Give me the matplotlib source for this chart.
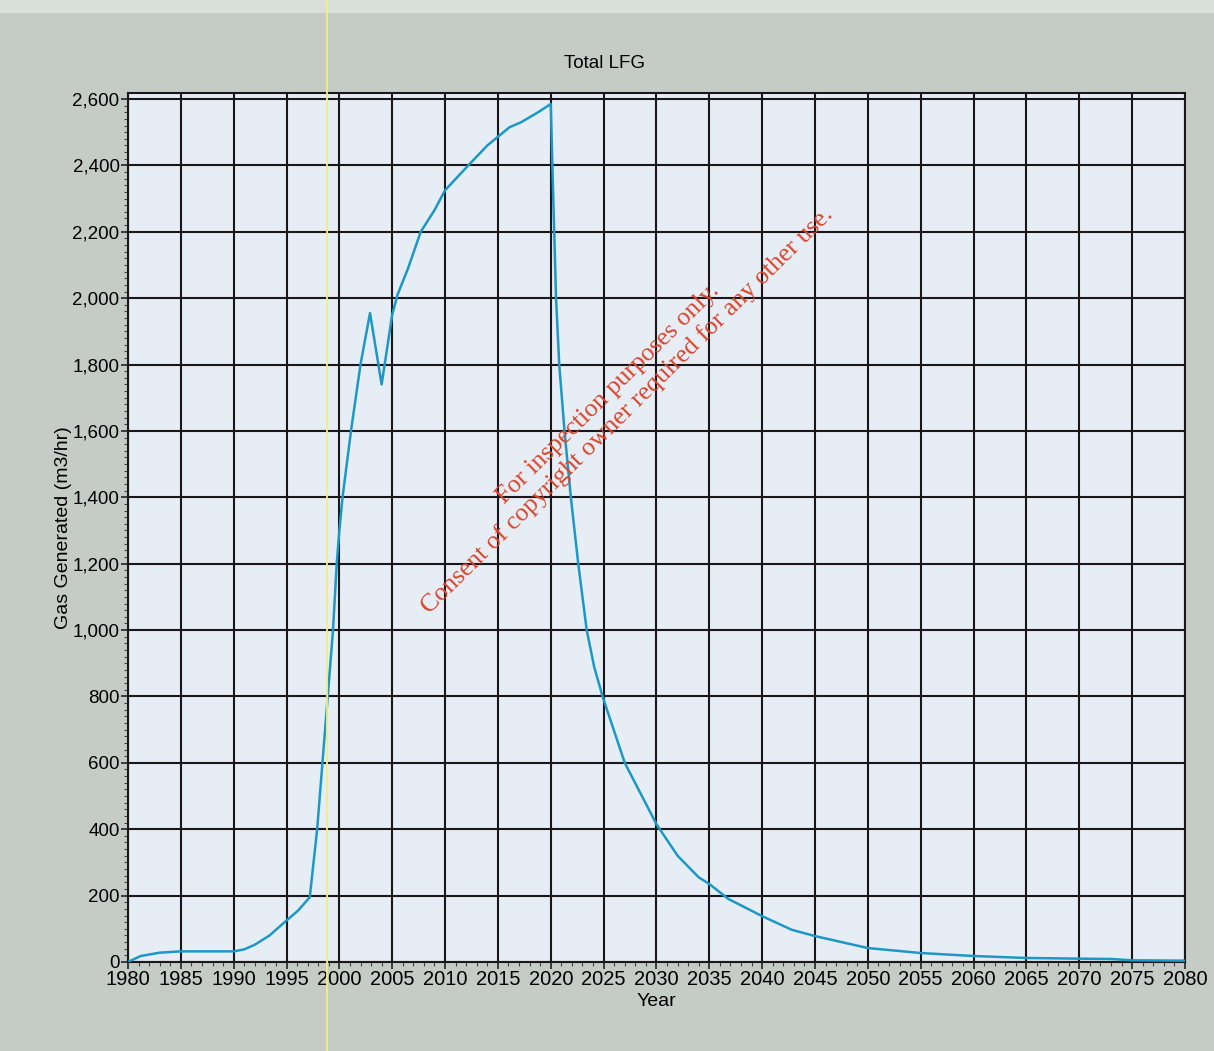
import matplotlib
matplotlib.use("Agg")
import matplotlib.pyplot as plt
from matplotlib.ticker import MultipleLocator, FuncFormatter
from matplotlib.lines import Line2D
from matplotlib.patches import Rectangle

# landfill gas generation curve (m3/hr)
years = [1980, 1981.2, 1983, 1985, 1990, 1991, 1992, 1993.4, 1995, 1996.1,
         1997.2, 1997.9, 1998.4, 1998.9, 1999.4, 1999.75, 2000, 2000.3, 2001.1,
         2002, 2002.9, 2004, 2005, 2005.5, 2006.5, 2007.7, 2009, 2010, 2012.2,
         2014, 2016.1, 2017.2, 2018.8, 2020, 2020.15, 2020.5, 2020.8, 2021.3,
         2021.9, 2022.6, 2023.4, 2024.1, 2024.9, 2027, 2030, 2032, 2034, 2035,
         2036.8, 2040, 2042.8, 2045, 2050, 2055, 2060, 2065, 2070, 2073, 2075,
         2080]
gas = [0, 18, 28, 32, 32, 38, 52, 80, 125, 155,
       195, 400, 600, 800, 1000, 1200, 1300, 1400, 1600,
       1800, 1955, 1740, 1950, 2010, 2090, 2200, 2265, 2325, 2400,
       2460, 2515, 2530, 2560, 2585, 2400, 2000, 1800, 1600,
       1400, 1200, 1000, 890, 800, 600, 415, 320, 255, 235,
       190, 138, 97, 78, 42, 27, 18, 12, 10, 9, 5,
       4]

x_ticks = list(range(1980, 2081, 5))
y_ticks = list(range(0, 2601, 200))

font = "Liberation Sans"
fig = plt.figure(figsize=(12.14, 10.51), dpi=100)
fig.patch.set_facecolor("#c5ccc5")

# light strip of page along the top edge
fig.add_artist(Rectangle((0, 0.988), 1, 0.012, transform=fig.transFigure,
                         facecolor="#d9dfdb", edgecolor="none", zorder=0))

ax = fig.add_axes([0.1054, 0.0847, 0.8707, 0.8268])
ax.set_facecolor("#e7edf5")
ax.plot(years, gas, color="#1b98c6", lw=1.8, zorder=3)

ax.set_xlim(1980, 2080)
ax.set_ylim(0, 2618)
ax.set_xticks(x_ticks)
ax.set_yticks(y_ticks)
ax.xaxis.set_minor_locator(MultipleLocator(1))
ax.yaxis.set_minor_locator(MultipleLocator(20))
ax.yaxis.set_major_formatter(FuncFormatter(lambda v, p: f"{int(v):,}"))
ax.grid(True, which="major", color="#1a171a", lw=1.5, zorder=1)
ax.tick_params(which="major", direction="out", length=5, width=1.2,
               color="#222222", pad=1)
ax.tick_params(which="minor", direction="out", length=3, width=0.8,
               color="#444444")
ax.tick_params(axis="x", labelsize=14.5)
ax.tick_params(axis="y", labelsize=13.5)
for lbl in ax.get_xticklabels() + ax.get_yticklabels():
    lbl.set_fontfamily(font)
for s in ax.spines.values():
    s.set_color("#1a171a")
    s.set_linewidth(1.5)

ax.set_xlabel("Year", fontsize=14, family=font, labelpad=3)
ax.set_ylabel("Gas Generated (m3/hr)", fontsize=14, family=font, labelpad=0)
fig.text(0.498, 0.94, "Total LFG", ha="center", va="center",
         fontsize=13.5, family=font)

# watermark across the chart
wm = dict(rotation=44.6, rotation_mode="anchor", ha="center", va="center",
          color="#d8452b", family="Liberation Serif", fontsize=18.5, zorder=10)
fig.text(0.5008, 0.6252, "For inspection purposes only.", **wm)
fig.text(0.5165, 0.6099,
         "Consent of copyright owner required for any other use.", **wm)

# thin yellow streak from the scanner
fig.add_artist(Line2D([327 / 1214, 327 / 1214], [0, 1], transform=fig.transFigure,
                      color="#f4ee7a", lw=1.3, zorder=5))

fig.savefig("out.png", dpi=100, facecolor=fig.get_facecolor())
